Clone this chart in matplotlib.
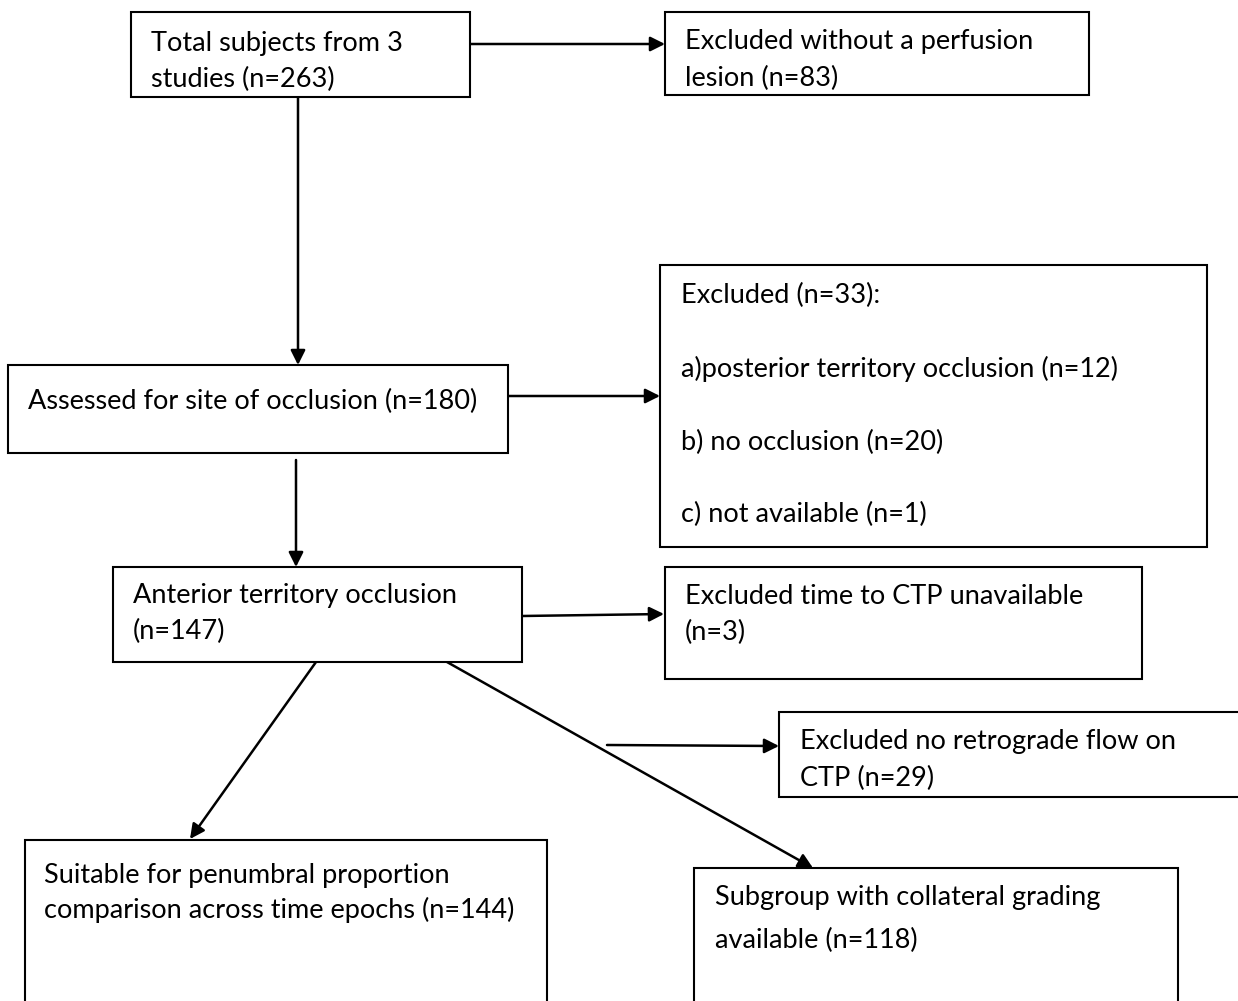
import matplotlib
matplotlib.use("Agg")
import matplotlib.pyplot as plt
from matplotlib.patches import Rectangle

plt.rcParams['font.family'] = ['Lato', 'DejaVu Sans']

# box texts, one list of lines per box
total_lines = ["Total subjects from 3", "studies (n=263)"]
no_lesion_lines = ["Excluded without a perfusion", "lesion (n=83)"]
assessed_lines = ["Assessed for site of occlusion (n=180)"]
excluded33_lines = ["Excluded (n=33):",
                    "a)posterior territory occlusion (n=12)",
                    "b) no occlusion (n=20)",
                    "c) not available (n=1)"]
anterior_lines = ["Anterior territory occlusion", "(n=147)"]
no_ctp_lines = ["Excluded time to CTP unavailable", "(n=3)"]
no_retro_lines = ["Excluded no retrograde flow on", "CTP (n=29)"]
suitable_lines = ["Suitable for penumbral proportion",
                  "comparison across time epochs (n=144)"]
subgroup_lines = ["Subgroup with collateral grading", "available (n=118)"]

W, H = 1238, 1001
fig = plt.figure(figsize=(W / 100, H / 100), dpi=100)
ax = fig.add_axes([0, 0, 1, 1])
ax.set_xlim(0, W)
ax.set_ylim(H, 0)
ax.axis('off')

# (x0, y0, x1, y1), text x, line y's
boxes = [
    (total_lines, (131, 12, 470, 97), 151, [43, 79]),
    (no_lesion_lines, (665, 12, 1089, 95), 685, [42, 78]),
    (assessed_lines, (8, 365, 508, 453), 28, [401]),
    (excluded33_lines, (660, 265, 1207, 547), 681, [295, 369, 442, 514]),
    (anterior_lines, (113, 567, 522, 662), 133, [596, 631]),
    (no_ctp_lines, (665, 567, 1142, 679), 685, [597, 632]),
    (no_retro_lines, (779, 712, 1260, 797), 800, [742, 778]),
    (suitable_lines, (25, 840, 547, 1040), 44, [876, 910]),
    (subgroup_lines, (694, 868, 1178, 1040), 715, [898, 940]),
]

for lines, (x0, y0, x1, y1), tx, ys in boxes:
    rect = Rectangle((x0, y0), x1 - x0, y1 - y0, facecolor='white',
                     edgecolor='black', linewidth=1.5, zorder=2)
    ax.add_patch(rect)
    for line, ty in zip(lines, ys):
        t = ax.text(tx, ty, line, fontsize=19.5, ha='left', va='center',
                    color='black', zorder=3)
        t.set_clip_path(rect)

arrows = [
    ((470, 44), (665, 44)),
    ((298, 97), (298, 365)),
    ((508, 396), (660, 396)),
    ((296, 460), (296, 567)),
    ((522, 616), (664, 614)),
    ((316, 662), (190, 839)),
    ((447, 662), (813, 868)),
    ((607, 745), (779, 746)),
]
for start, end in arrows:
    ax.annotate('', xy=end, xytext=start,
                arrowprops=dict(arrowstyle='-|>', color='black', lw=1.8,
                                mutation_scale=22, shrinkA=0, shrinkB=0),
                zorder=1)

fig.savefig('out.png', dpi=100, facecolor='white')
